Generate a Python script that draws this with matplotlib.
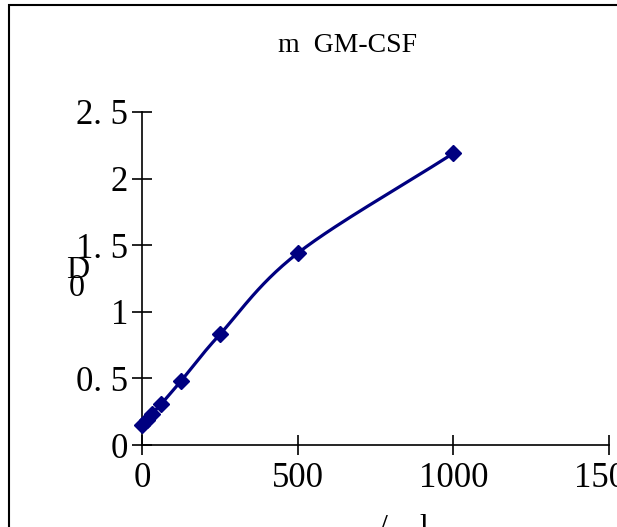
import numpy as np
import matplotlib
matplotlib.use("Agg")
import matplotlib.pyplot as plt
from matplotlib.patches import Rectangle

# standard curve data (concentration vs OD)
conc = [0, 15.6, 31.25, 62.5, 125, 250, 500, 1000]
od = [0.15, 0.19, 0.23, 0.31, 0.48, 0.83, 1.44, 2.19]
yticks = [0, 0.5, 1, 1.5, 2, 2.5]
ytick_labels = ["0", "0. 5", "1", "1. 5", "2", "2. 5"]
xticks = [0, 500, 1000, 1500]
xtick_labels = ["0", "500", "1000", "1500"]


def smooth(x, y, n=30):
    # catmull-rom curve through the points (like excel smoothed line)
    p = np.column_stack([x, y]).astype(float)
    p = np.vstack([2 * p[0] - p[1], p, 2 * p[-1] - p[-2]])
    out = []
    t = np.linspace(0, 1, n)[:, None]
    for i in range(1, len(p) - 2):
        p0, p1, p2, p3 = p[i - 1], p[i], p[i + 1], p[i + 2]
        seg = 0.5 * ((2 * p1) + (-p0 + p2) * t + (2 * p0 - 5 * p1 + 4 * p2 - p3) * t ** 2
                     + (-p0 + 3 * p1 - 3 * p2 + p3) * t ** 3)
        out.append(seg)
    out = np.vstack(out)
    return out[:, 0], out[:, 1]


plt.rcParams['font.family'] = ['Liberation Serif', 'DejaVu Serif']

fig = plt.figure(figsize=(6.17, 5.27), dpi=100)
W, H = 617, 527
ax = fig.add_axes([142 / W, 1 - 445 / H, (609 - 142) / W, (445 - 112) / H])

sx, sy = smooth(conc, od)
ax.plot(sx, sy, color="#000080", lw=2.3, clip_on=False, zorder=3)
ax.plot(conc, od, ls="none", marker="D", ms=8.5, color="#000080", clip_on=False, zorder=4)

ax.set_xlim(0, 1500)
ax.set_ylim(0, 2.5)
ax.set_xticks(xticks)
ax.set_xticklabels(xtick_labels)
ax.set_yticks(yticks)
ax.set_yticklabels(ytick_labels)
for s in ["top", "right"]:
    ax.spines[s].set_visible(False)
for s in ["left", "bottom"]:
    ax.spines[s].set_linewidth(1.2)
ax.tick_params(direction="inout", length=14, width=1.2, labelsize=25, color="black")
ax.tick_params(axis="y", pad=3)
ax.tick_params(axis="x", pad=5)

fig.text(348 / W, 1 - 45 / H, "m  GM-CSF", ha="center", va="center", fontsize=20)
fig.text(78 / W, 1 - 271 / H, "D", ha="center", va="center", fontsize=23)
fig.text(77 / W, 1 - 289 / H, "0", ha="center", va="center", fontsize=23)
fig.text(404 / W, 1 - 514 / H, "/    l", ha="center", va="top", fontsize=23)

# outer chart frame
fig.patches.append(Rectangle((9 / W, -0.1), 1.2, 1 - 5 / H + 0.1, transform=fig.transFigure,
                             fill=False, ec="black", lw=1.5))

fig.savefig("out.png", dpi=100)
